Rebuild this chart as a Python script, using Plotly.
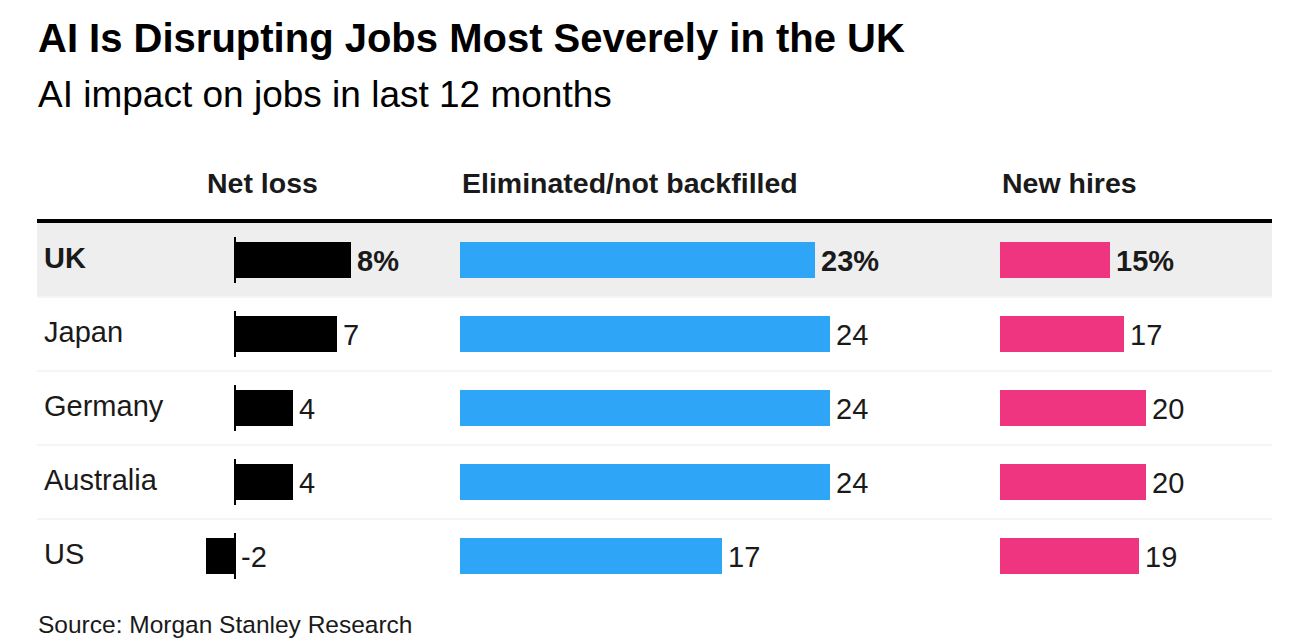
import plotly.graph_objects as go

countries = ["UK", "Japan", "Germany", "Australia", "US"]
net_loss = [8, 7, 4, 4, -2]
eliminated = [23, 24, 24, 24, 17]
new_hires = [15, 17, 20, 20, 19]

panel_titles = ["Net loss", "Eliminated/not backfilled", "New hires"]
title = "AI Is Disrupting Jobs Most Severely in the UK"
subtitle = "AI impact on jobs in last 12 months"
source = "Source: Morgan Stanley Research"

W, H = 1310, 642
OFF = 8  # page body margin
FONT = "Liberation Sans, Arial, Helvetica, sans-serif"
TXT = "#1a1a1a"


def px(x):
    return (x - OFF) / W


def py(y):
    return 1 - (y - OFF) / H


fig = go.Figure()

panels = [
    dict(vals=net_loss, color="#000000", ax="x", d0=195, d1=445, zero=235, scale=14.5),
    dict(vals=eliminated, color="#2fa5f8", ax="x2", d0=460, d1=945, zero=460, scale=15.42),
    dict(vals=new_hires, color="#ef3480", ax="x3", d0=1000, d1=1272, zero=1000, scale=7.32),
]

row_top, row_h = 223, 74
n = len(countries)

for i, p in enumerate(panels):
    fig.add_trace(go.Bar(
        x=p["vals"], y=countries, orientation="h",
        marker=dict(color=p["color"], line=dict(width=0)),
        width=0.49, xaxis=p["ax"], yaxis="y",
        hoverinfo="skip", showlegend=False,
    ))
    key = "xaxis" if i == 0 else f"xaxis{i+1}"
    fig.layout[key] = dict(
        domain=[px(p["d0"]), px(p["d1"])],
        range=[(p["d0"] - p["zero"]) / p["scale"], (p["d1"] - p["zero"]) / p["scale"]],
        visible=False, anchor="y", fixedrange=True,
    )
    for j, (c, v) in enumerate(zip(countries, p["vals"])):
        label = f"{v}%" if j == 0 else f"{v}"
        fig.add_annotation(
            x=max(v, 0), y=c, xref=p["ax"], yref="y",
            text=f"<b>{label}</b>" if j == 0 else label,
            showarrow=False, xanchor="left", yanchor="middle", xshift=4, yshift=-1,
            font=dict(family=FONT, size=29, color=TXT),
        )
    fig.add_annotation(
        x=px(p["d0"] if i > 0 else 205), y=py(183), xref="paper", yref="paper",
        text=f"<b>{panel_titles[i]}</b>", showarrow=False,
        xanchor="left", yanchor="middle",
        font=dict(family=FONT, size=28.5, color=TXT),
    )

fig.update_layout(
    yaxis=dict(
        domain=[py(row_top + n * row_h), py(row_top)],
        categoryorder="array", categoryarray=countries,
        range=[n - 0.5, -0.5], visible=False, fixedrange=True,
    )
)

shapes = []
shapes.append(dict(type="rect", xref="paper", yref="y", x0=px(37), x1=px(1272),
                   y0=-0.5, y1=0.5, fillcolor="#eeeeee", line=dict(width=0), layer="below"))
for k in range(1, n):
    shapes.append(dict(type="line", xref="paper", yref="y", x0=px(37), x1=px(1272),
                       y0=k - 0.5, y1=k - 0.5, line=dict(color="#f5f5f5", width=2), layer="below"))
shapes.append(dict(type="line", xref="paper", yref="paper", x0=px(37), x1=px(1272),
                   y0=py(221), y1=py(221), line=dict(color="#000000", width=4)))
for k in range(n):
    shapes.append(dict(type="line", xref="x", yref="y", x0=0, x1=0,
                       y0=k - 0.31, y1=k + 0.31, line=dict(color="#000000", width=2)))
fig.update_layout(shapes=shapes)

for j, c in enumerate(countries):
    fig.add_annotation(
        x=px(42), y=c, xref="paper", yref="y",
        text=f"<b>{c}</b>" if j == 0 else c, showarrow=False,
        xanchor="left", yanchor="middle", yshift=2,
        font=dict(family=FONT, size=29, color=TXT),
    )

fig.add_annotation(x=px(36), y=py(38), xref="paper", yref="paper", text=f"<b>{title}</b>",
                   showarrow=False, xanchor="left", yanchor="middle",
                   font=dict(family=FONT, size=40, color="#000000"))
fig.add_annotation(x=px(36), y=py(95), xref="paper", yref="paper", text=subtitle,
                   showarrow=False, xanchor="left", yanchor="middle",
                   font=dict(family=FONT, size=37, color="#000000"))
fig.add_annotation(x=px(36), y=py(624), xref="paper", yref="paper", text=source,
                   showarrow=False, xanchor="left", yanchor="middle",
                   font=dict(family=FONT, size=24.5, color=TXT))

fig.update_layout(
    width=W, height=H,
    margin=dict(l=0, r=0, t=0, b=0),
    paper_bgcolor="white", plot_bgcolor="rgba(0,0,0,0)",
    bargap=0, showlegend=False,
)

fig.write_html("out.html", config={"displayModeBar": False})
